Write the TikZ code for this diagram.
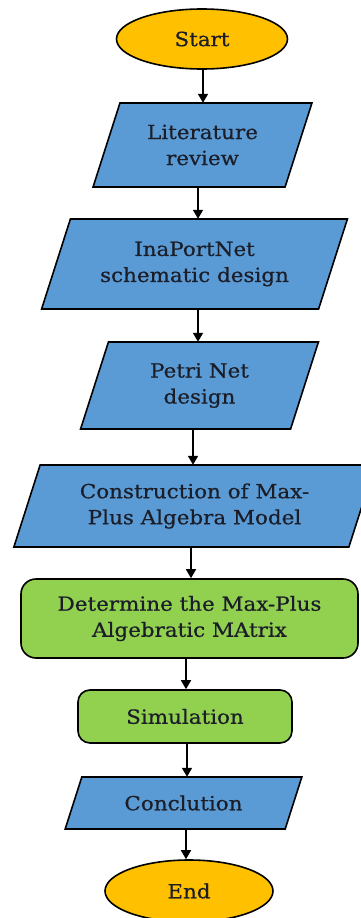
\documentclass[tikz,border=0pt]{standalone}
\usepackage{fontspec}
\setmainfont[FakeStretch=1.1, FakeBold=0.6]{DejaVu Serif}
\usetikzlibrary{shapes.geometric,arrows.meta}
\definecolor{procblue}{HTML}{5B9BD5}
\definecolor{stepgreen}{HTML}{92D050}
\definecolor{termgold}{HTML}{FFC000}
\definecolor{inktext}{HTML}{1B1E28}

\tikzset{
  txt/.style={inner sep=0pt, align=center, text=inktext,
    font=\fontsize{19.5}{26}\selectfont},
  para/.style={fill=procblue, draw=black, line width=1.6pt, line join=miter},
  term/.style={txt, ellipse, fill=termgold, draw=black, line width=1.6pt},
  roundstep/.style={txt, rectangle, rounded corners=#1, fill=stepgreen,
    draw=black, line width=1.6pt},
  arr/.style={draw=black, line width=1.6pt,
    -{Triangle[width=10pt,length=9pt]}},
}

% parallelogram: name, centre x, centre y, edge width, height, text
\newcommand\flowpara[6]{%
  \pgfmathsetmacro\pgL{#2-#4/2}%
  \pgfmathsetmacro\pgR{#2+#4/2}%
  \pgfmathsetmacro\pgS{0.16*#5}%
  \pgfmathsetmacro\pgT{#3-#5/2}%
  \pgfmathsetmacro\pgB{#3+#5/2}%
  \filldraw[para] (\pgL+\pgS,\pgT) -- (\pgR+\pgS,\pgT) -- (\pgR-\pgS,\pgB)
    -- (\pgL-\pgS,\pgB) -- cycle;
  \node[txt, minimum width=#4, minimum height=#5] (#1) at (#2,#3) {#6};%
}

\begin{document}
\begin{tikzpicture}[x=1pt, y=-1pt]
\useasboundingbox (0,0) rectangle (361,918);
\clip (0,0) rectangle (361,918);

\node[term, minimum width=171, minimum height=60] (start) at (202,39) {Start};

\flowpara{lit}{202.5}{145}{192}{84}{Literature\\review}
\flowpara{ina}{194.5}{264}{277}{90}{InaPortNet\\schematic design}
\flowpara{petri}{199.5}{385.5}{210}{87}{Petri Net\\design}
\flowpara{constr}{194.5}{506}{335}{82}{Construction of Max-\\Plus Algebra Model}

\node[roundstep=15pt, minimum width=337, minimum height=79] (det) at (189.5,618.5)
  {Determine the Max-Plus\\Algebratic MAtrix};
\node[roundstep=12pt, minimum width=214, minimum height=53] (sim) at (185,716.5)
  {Simulation};

\flowpara{concl}{183.5}{803}{220}{52}{Conclution}

\node[term, minimum width=168, minimum height=62] (end) at (189,891) {End};

\draw[arr] ([xshift=1pt]start.south) -- ([xshift=1pt]start.south |- lit.north);
\draw[arr] ([xshift=-4.5pt]lit.south) -- ([xshift=-4.5pt]lit.south |- ina.north);
\draw[arr] ([xshift=3.5pt]ina.south) -- ([xshift=3.5pt]ina.south |- petri.north);
\draw[arr] ([xshift=-6.5pt]petri.south) -- ([xshift=-6.5pt]petri.south |- constr.north);
\draw[arr] ([xshift=-3.5pt]constr.south) -- ([xshift=-3.5pt]constr.south |- det.north);
\draw[arr] ([xshift=-3.5pt]det.south) -- ([xshift=-3.5pt]det.south |- sim.north);
\draw[arr] ([xshift=2pt]sim.south) -- ([xshift=2pt]sim.south |- concl.north);
\draw[arr] ([xshift=2.5pt]concl.south) -- ([xshift=2.5pt]concl.south |- end.north);
\end{tikzpicture}
\end{document}
